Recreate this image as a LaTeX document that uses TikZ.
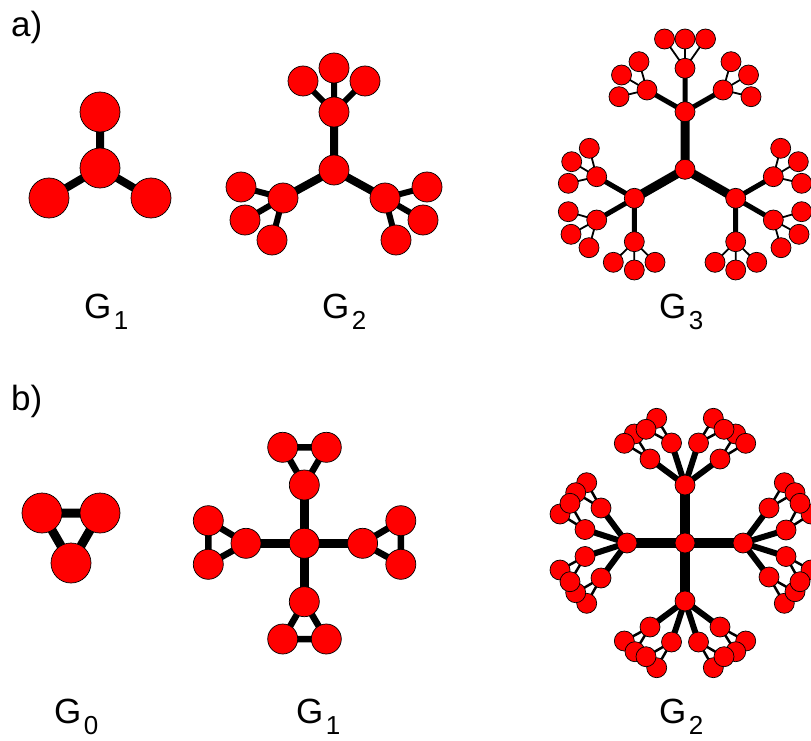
\documentclass[tikz,border=0pt]{standalone}
\usepackage{fontspec}
\setmainfont{Liberation Sans}
\usetikzlibrary{backgrounds}
\newcommand{\gname}[1]{G\kern2.5pt\raisebox{-11pt}{\fontsize{26}{26}\selectfont #1}}
\tikzset{
  vtx/.style={circle, draw=black, fill=red, line width=0.7pt, inner sep=0pt},
  vbig/.style={vtx, minimum size=40pt},
  vmid/.style={vtx, minimum size=30pt},
  vsmall/.style={vtx, minimum size=20pt},
  bond/.style={line width=#1, black},
  lbl/.style={font=\fontsize{35}{35}\selectfont, inner sep=0pt, anchor=base west},
}

\begin{document}
\begin{tikzpicture}[x=1pt, y=-1pt]
  \useasboundingbox (0,0) rectangle (811,741);
  \clip (0,0) rectangle (811,741);

  %% panel labels
  \node[lbl] (pa) at (11,37) {a)};
  \node[lbl] (pb) at (11,410) {b)};

  %% a) G1
  \node[vbig] (a1c) at (100,168) {};
  \node[vbig] (a1t) at (100,112) {};
  \node[vbig] (a1l) at (49,198) {};
  \node[vbig] (a1r) at (151,198) {};
  \node[lbl] (la1) at (84,318) {\gname{1}};

  %% a) G2
  \node[vmid] (a2c) at (334,170) {};
  \node[vmid] (a2t) at (334,112) {};
  \node[vmid] (a2l) at (283,198) {};
  \node[vmid] (a2r) at (385,198) {};
  \node[vmid] (a2t2) at (334,68) {};
  \node[vmid] (a2t1) at (303,81) {};
  \node[vmid] (a2t3) at (365,81) {};
  \node[vmid] (a2l1) at (241,187) {};
  \node[vmid] (a2l2) at (245,220) {};
  \node[vmid] (a2l3) at (272,240) {};
  \node[vmid] (a2r1) at (427,187) {};
  \node[vmid] (a2r2) at (423,220) {};
  \node[vmid] (a2r3) at (396,240) {};
  \node[lbl] (la2) at (322,318) {\gname{2}};

  %% a) G3
  \node[vsmall] (a3c) at (685,169.3) {};
  \node[vsmall] (a3t) at (685,111.7) {};
  \node[vsmall] (a3l) at (634.3,198.3) {};
  \node[vsmall] (a3r) at (735.7,198.3) {};
  \node[vsmall] (a3t1) at (647,90) {};
  \node[vsmall] (a3t2) at (685,68.3) {};
  \node[vsmall] (a3t3) at (723,90) {};
  \node[vsmall] (a3l1) at (596.7,176.7) {};
  \node[vsmall] (a3l2) at (596.7,220) {};
  \node[vsmall] (a3l3) at (634.3,241.7) {};
  \node[vsmall] (a3r1) at (773.3,176.7) {};
  \node[vsmall] (a3r2) at (773.3,220) {};
  \node[vsmall] (a3r3) at (735.7,241.7) {};
  \node[vsmall] (a3t1a) at (639,61.7) {};
  \node[vsmall] (a3t1b) at (621.5,75) {};
  \node[vsmall] (a3t1c) at (619,96.7) {};
  \node[vsmall] (a3t2a) at (664.5,39) {};
  \node[vsmall] (a3t2b) at (685,39) {};
  \node[vsmall] (a3t2c) at (705.5,39) {};
  \node[vsmall] (a3t3a) at (731,61.7) {};
  \node[vsmall] (a3t3b) at (748.5,75) {};
  \node[vsmall] (a3t3c) at (751,96.7) {};
  \node[vsmall] (a3l1a) at (589.3,148.3) {};
  \node[vsmall] (a3l1b) at (571.7,161.7) {};
  \node[vsmall] (a3l1c) at (568.3,183.3) {};
  \node[vsmall] (a3l2a) at (568.3,211.7) {};
  \node[vsmall] (a3l2b) at (571,234.3) {};
  \node[vsmall] (a3l2c) at (589,247.7) {};
  \node[vsmall] (a3l3a) at (613.3,262.3) {};
  \node[vsmall] (a3l3b) at (634.3,270) {};
  \node[vsmall] (a3l3c) at (655,262.3) {};
  \node[vsmall] (a3r1a) at (780.7,148.3) {};
  \node[vsmall] (a3r1b) at (798.3,161.7) {};
  \node[vsmall] (a3r1c) at (801.7,183.3) {};
  \node[vsmall] (a3r2a) at (801.7,211.7) {};
  \node[vsmall] (a3r2b) at (799,234.3) {};
  \node[vsmall] (a3r2c) at (781,247.7) {};
  \node[vsmall] (a3r3a) at (756.7,262.3) {};
  \node[vsmall] (a3r3b) at (735.7,270) {};
  \node[vsmall] (a3r3c) at (715,262.3) {};
  \node[lbl] (la3) at (659,318) {\gname{3}};

  %% b) G0
  \node[vbig] (b0a) at (42,513) {};
  \node[vbig] (b0b) at (100,513) {};
  \node[vbig] (b0c) at (71,563) {};
  \node[lbl] (lb0) at (54,723) {\gname{0}};

  %% b) G1
  \node[vmid] (b1c) at (304.3,543.3) {};
  \node[vmid] (b1t) at (304.3,485) {};
  \node[vmid] (b1b) at (304.3,601.7) {};
  \node[vmid] (b1l) at (246,543.3) {};
  \node[vmid] (b1r) at (362.6,543.3) {};
  \node[vmid] (b1t1) at (282.7,447.3) {};
  \node[vmid] (b1t2) at (326.3,447.3) {};
  \node[vmid] (b1b1) at (282.7,639) {};
  \node[vmid] (b1b2) at (326.3,639) {};
  \node[vmid] (b1l1) at (208.3,520.7) {};
  \node[vmid] (b1l2) at (208.3,564.3) {};
  \node[vmid] (b1r1) at (400.8,520.7) {};
  \node[vmid] (b1r2) at (400.8,564.3) {};
  \node[lbl] (lb1) at (296,723) {\gname{1}};

  %% b) G2
  \node[vsmall] (b2c) at (685,543) {};
  \node[vsmall] (b2t) at (685,485) {};
  \node[vsmall] (b2b) at (685,601) {};
  \node[vsmall] (b2l) at (627,543) {};
  \node[vsmall] (b2r) at (743,543) {};
  % top arm
  \node[vsmall] (b2t1) at (650,459) {};
  \node[vsmall] (b2t2) at (671.5,443) {};
  \node[vsmall] (b2t3) at (698.5,443) {};
  \node[vsmall] (b2t4) at (720,459) {};
  \node[vsmall] (b2t2b) at (656.7,418.3) {};
  \node[vsmall] (b2t1b) at (634.3,434) {};
  \node[vsmall] (b2t1a) at (624.3,443.3) {};
  \node[vsmall] (b2t2a) at (646,429.3) {};
  \node[vsmall] (b2t3a) at (713.3,418.3) {};
  \node[vsmall] (b2t4a) at (735.7,434) {};
  \node[vsmall] (b2t4b) at (745.7,443.3) {};
  \node[vsmall] (b2t3b) at (724,429.3) {};
  % bottom arm
  \node[vsmall] (b2b1) at (650,627) {};
  \node[vsmall] (b2b2) at (671.5,642) {};
  \node[vsmall] (b2b3) at (698.5,642) {};
  \node[vsmall] (b2b4) at (720,627) {};
  \node[vsmall] (b2b1a) at (624.3,641) {};
  \node[vsmall] (b2b1b) at (635,651.7) {};
  \node[vsmall] (b2b2b) at (656.7,667.7) {};
  \node[vsmall] (b2b2a) at (646,656.7) {};
  \node[vsmall] (b2b4b) at (745.7,641) {};
  \node[vsmall] (b2b4a) at (735.7,651.7) {};
  \node[vsmall] (b2b3a) at (713.3,667.7) {};
  \node[vsmall] (b2b3b) at (724,656.7) {};
  % left arm
  \node[vsmall] (b2l1) at (601,508) {};
  \node[vsmall] (b2l2) at (585,529.5) {};
  \node[vsmall] (b2l3) at (585,556.5) {};
  \node[vsmall] (b2l4) at (601,578) {};
  \node[vsmall] (b2l1a) at (586.7,482.7) {};
  \node[vsmall] (b2l1b) at (575.7,492.7) {};
  \node[vsmall] (b2l2b) at (560,514) {};
  \node[vsmall] (b2l2a) at (570,503.3) {};
  \node[vsmall] (b2l3a) at (560,570) {};
  \node[vsmall] (b2l4b) at (586.7,603.3) {};
  \node[vsmall] (b2l4a) at (575.7,592.7) {};
  \node[vsmall] (b2l3b) at (570,581.7) {};
  % right arm
  \node[vsmall] (b2r1) at (769,508) {};
  \node[vsmall] (b2r2) at (786,530) {};
  \node[vsmall] (b2r3) at (786,556.5) {};
  \node[vsmall] (b2r4) at (769,577) {};
  \node[vsmall] (b2r1a) at (784.3,482.7) {};
  \node[vsmall] (b2r1b) at (795,492.7) {};
  \node[vsmall] (b2r2b) at (811,514) {};
  \node[vsmall] (b2r2a) at (800,503.3) {};
  \node[vsmall] (b2r3a) at (811,570) {};
  \node[vsmall] (b2r4b) at (784.3,603.3) {};
  \node[vsmall] (b2r4a) at (795,591.7) {};
  \node[vsmall] (b2r3b) at (800,581.7) {};
  \node[lbl] (lb2) at (659,723) {\gname{2}};

  %% bonds, under the vertices
  \begin{scope}[on background layer]
    % a) G1
    \draw[bond=8pt] (a1c.center) -- (a1t.center) (a1c.center) -- (a1l.center)
      (a1c.center) -- (a1r.center);
    % a) G2
    \draw[bond=8pt] (a2c.center) -- (a2t.center) (a2c.center) -- (a2l.center)
      (a2c.center) -- (a2r.center);
    \draw[bond=6pt] (a2t.center) -- (a2t1.center) (a2t.center) -- (a2t2.center)
      (a2t.center) -- (a2t3.center)
      (a2l.center) -- (a2l1.center) (a2l.center) -- (a2l2.center)
      (a2l.center) -- (a2l3.center)
      (a2r.center) -- (a2r1.center) (a2r.center) -- (a2r2.center)
      (a2r.center) -- (a2r3.center);
    % a) G3
    \draw[bond=9pt] (a3c.center) -- (a3t.center) (a3c.center) -- (a3l.center)
      (a3c.center) -- (a3r.center);
    \draw[bond=5pt] (a3t.center) -- (a3t1.center) (a3t.center) -- (a3t2.center)
      (a3t.center) -- (a3t3.center)
      (a3l.center) -- (a3l1.center) (a3l.center) -- (a3l2.center)
      (a3l.center) -- (a3l3.center)
      (a3r.center) -- (a3r1.center) (a3r.center) -- (a3r2.center)
      (a3r.center) -- (a3r3.center);
    \draw[bond=1.8pt]
      (a3t1.center) -- (a3t1a.center) (a3t1.center) -- (a3t1b.center) (a3t1.center) -- (a3t1c.center)
      (a3t2.center) -- (a3t2a.center) (a3t2.center) -- (a3t2b.center) (a3t2.center) -- (a3t2c.center)
      (a3t3.center) -- (a3t3a.center) (a3t3.center) -- (a3t3b.center) (a3t3.center) -- (a3t3c.center)
      (a3l1.center) -- (a3l1a.center) (a3l1.center) -- (a3l1b.center) (a3l1.center) -- (a3l1c.center)
      (a3l2.center) -- (a3l2a.center) (a3l2.center) -- (a3l2b.center) (a3l2.center) -- (a3l2c.center)
      (a3l3.center) -- (a3l3a.center) (a3l3.center) -- (a3l3b.center) (a3l3.center) -- (a3l3c.center)
      (a3r1.center) -- (a3r1a.center) (a3r1.center) -- (a3r1b.center) (a3r1.center) -- (a3r1c.center)
      (a3r2.center) -- (a3r2a.center) (a3r2.center) -- (a3r2b.center) (a3r2.center) -- (a3r2c.center)
      (a3r3.center) -- (a3r3a.center) (a3r3.center) -- (a3r3b.center) (a3r3.center) -- (a3r3c.center);
    % b) G0
    \draw[bond=9pt] (b0a.center) -- (b0b.center) -- (b0c.center) -- cycle;
    % b) G1
    \draw[bond=9pt] (b1c.center) -- (b1t.center) (b1c.center) -- (b1b.center)
      (b1c.center) -- (b1l.center) (b1c.center) -- (b1r.center);
    \draw[bond=6.5pt] (b1t.center) -- (b1t1.center) -- (b1t2.center) -- cycle
      (b1b.center) -- (b1b1.center) -- (b1b2.center) -- cycle
      (b1l.center) -- (b1l1.center) -- (b1l2.center) -- cycle
      (b1r.center) -- (b1r1.center) -- (b1r2.center) -- cycle;
    % b) G2
    \draw[bond=10pt] (b2c.center) -- (b2t.center) (b2c.center) -- (b2b.center)
      (b2c.center) -- (b2l.center) (b2c.center) -- (b2r.center);
    \draw[bond=6pt]
      (b2t.center) -- (b2t1.center) (b2t.center) -- (b2t2.center) (b2t.center) -- (b2t3.center) (b2t.center) -- (b2t4.center)
      (b2b.center) -- (b2b1.center) (b2b.center) -- (b2b2.center) (b2b.center) -- (b2b3.center) (b2b.center) -- (b2b4.center)
      (b2l.center) -- (b2l1.center) (b2l.center) -- (b2l2.center) (b2l.center) -- (b2l3.center) (b2l.center) -- (b2l4.center)
      (b2r.center) -- (b2r1.center) (b2r.center) -- (b2r2.center) (b2r.center) -- (b2r3.center) (b2r.center) -- (b2r4.center);
    \draw[bond=2.5pt]
      (b2t1.center) -- (b2t1a.center) -- (b2t1b.center) -- cycle
      (b2t2.center) -- (b2t2a.center) -- (b2t2b.center) -- cycle
      (b2t3.center) -- (b2t3a.center) -- (b2t3b.center) -- cycle
      (b2t4.center) -- (b2t4a.center) -- (b2t4b.center) -- cycle
      (b2b1.center) -- (b2b1a.center) -- (b2b1b.center) -- cycle
      (b2b2.center) -- (b2b2a.center) -- (b2b2b.center) -- cycle
      (b2b3.center) -- (b2b3a.center) -- (b2b3b.center) -- cycle
      (b2b4.center) -- (b2b4a.center) -- (b2b4b.center) -- cycle
      (b2l1.center) -- (b2l1a.center) -- (b2l1b.center) -- cycle
      (b2l2.center) -- (b2l2a.center) -- (b2l2b.center) -- cycle
      (b2l3.center) -- (b2l3a.center) -- (b2l3b.center) -- cycle
      (b2l4.center) -- (b2l4a.center) -- (b2l4b.center) -- cycle
      (b2r1.center) -- (b2r1a.center) -- (b2r1b.center) -- cycle
      (b2r2.center) -- (b2r2a.center) -- (b2r2b.center) -- cycle
      (b2r3.center) -- (b2r3a.center) -- (b2r3b.center) -- cycle
      (b2r4.center) -- (b2r4a.center) -- (b2r4b.center) -- cycle;
  \end{scope}
\end{tikzpicture}
\end{document}
